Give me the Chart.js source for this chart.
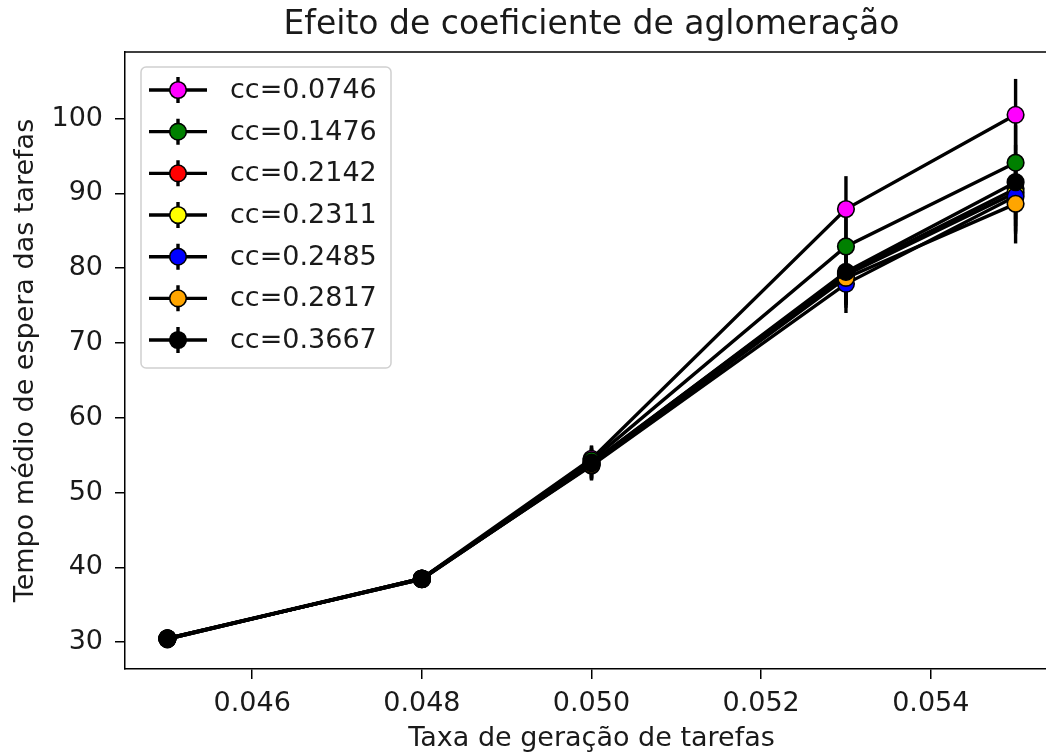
<!DOCTYPE html>
<html>
<head>
<meta charset="utf-8">
<script src="https://cdn.jsdelivr.net/npm/chart.js@4.4.1/dist/chart.umd.min.js"></script>
<style>
html, body { margin: 0; padding: 0; overflow: hidden; background: #fff; }
#clip { position: relative; width: 1046px; height: 755px; overflow: hidden; }
#wrap { position: absolute; left: 0; top: 0; width: 1075px; height: 755px; }
</style>
</head>
<body>
<div id="clip"><div id="wrap"><canvas id="c" width="1075" height="755"></canvas></div></div>
<script>
// ---- data ----
const xValues = [0.045, 0.048, 0.050, 0.053, 0.055];
const seriesLabels = ['cc=0.0746', 'cc=0.1476', 'cc=0.2142', 'cc=0.2311', 'cc=0.2485', 'cc=0.2817', 'cc=0.3667'];
const cc0746 = [30.5, 38.5, 54.5, 87.9, 100.5];
const cc1476 = [30.5, 38.4, 54.3, 82.9, 94.1];
const cc2142 = [30.4, 38.5, 54.0, 79.3, 90.6];
const cc2311 = [30.5, 38.4, 53.8, 79.1, 90.1];
const cc2485 = [30.4, 38.5, 53.6, 77.9, 89.6];
const cc2817 = [30.5, 38.4, 53.7, 78.7, 88.6];
const cc3667 = [30.4, 38.5, 53.9, 79.5, 91.5];
const err0746 = [0.3, 0.4, 1.8, 4.4, 4.8];
const err1476 = [0.3, 0.4, 1.9, 4.0, 5.0];
const err2142 = [0.3, 0.4, 2.0, 4.2, 5.0];
const err2311 = [0.3, 0.4, 2.0, 4.0, 5.2];
const err2485 = [0.3, 0.4, 2.0, 3.9, 5.0];
const err2817 = [0.3, 0.4, 2.0, 4.0, 5.3];
const err3667 = [0.3, 0.4, 2.0, 4.2, 5.0];
const xTicks = [0.046, 0.048, 0.050, 0.052, 0.054];
const yTicks = [30, 40, 50, 60, 70, 80, 90, 100];

const seriesValues = [cc0746, cc1476, cc2142, cc2311, cc2485, cc2817, cc3667];
const seriesErrors = [err0746, err1476, err2142, err2311, err2485, err2817, err3667];
const seriesColors = ['#ff00ff', '#008000', '#ff0000', '#ffff00', '#0000ff', '#ffa500', '#000000'];

const FONT = "'DejaVu Sans', sans-serif";
const TXT = '#1a1a1a';
const LW = 3.4;

const datasets = seriesValues.map((vals, i) => ({
  label: seriesLabels[i],
  data: xValues.map((x, j) => ({ x: x, y: vals[j] })),
  errors: seriesErrors[i],
  borderColor: '#000',
  borderWidth: LW,
  pointBackgroundColor: seriesColors[i],
  pointBorderColor: '#000',
  pointBorderWidth: 1.6,
  pointRadius: 8.3,
  pointHoverRadius: 8.3,
  tension: 0,
  fill: false,
  order: seriesValues.length - 1 - i
}));

const errorBars = {
  id: 'errorBars',
  beforeDatasetsDraw(chart) {
    const ctx = chart.ctx, xs = chart.scales.x, ys = chart.scales.y;
    ctx.save();
    ctx.strokeStyle = '#000';
    ctx.lineWidth = LW;
    ctx.lineCap = 'butt';
    chart.data.datasets.forEach(ds => {
      ds.data.forEach((p, j) => {
        const e = ds.errors[j];
        const px = xs.getPixelForValue(p.x);
        ctx.beginPath();
        ctx.moveTo(px, ys.getPixelForValue(p.y - e));
        ctx.lineTo(px, ys.getPixelForValue(p.y + e));
        ctx.stroke();
      });
    });
    ctx.restore();
  }
};

const frame = {
  id: 'frame',
  afterDraw(chart) {
    const ctx = chart.ctx, a = chart.chartArea;
    ctx.save();
    ctx.strokeStyle = '#000';
    ctx.lineWidth = 1.5;
    ctx.beginPath();
    ctx.moveTo(a.left, a.top);
    ctx.lineTo(a.right, a.top);
    ctx.lineTo(a.right, a.bottom);
    ctx.stroke();
    ctx.restore();
  }
};

const legendBox = {
  id: 'legendBox',
  afterDraw(chart) {
    const ctx = chart.ctx;
    const bx = 141, by = 67, bw = 250, bh = 301, r = 5;
    ctx.save();
    ctx.fillStyle = 'rgba(255,255,255,0.8)';
    ctx.strokeStyle = '#d0d0d0';
    ctx.lineWidth = 1.5;
    ctx.beginPath();
    ctx.moveTo(bx + r, by);
    ctx.arcTo(bx + bw, by, bx + bw, by + bh, r);
    ctx.arcTo(bx + bw, by + bh, bx, by + bh, r);
    ctx.arcTo(bx, by + bh, bx, by, r);
    ctx.arcTo(bx, by, bx + bw, by, r);
    ctx.closePath();
    ctx.fill();
    ctx.stroke();
    const step = 41.67;
    chart.data.datasets.forEach((ds, i) => {
      const cy = 90 + i * step;
      ctx.strokeStyle = '#000';
      ctx.lineWidth = LW;
      ctx.beginPath();
      ctx.moveTo(149, cy); ctx.lineTo(207, cy);
      ctx.moveTo(178, cy - 13); ctx.lineTo(178, cy + 13);
      ctx.stroke();
      ctx.beginPath();
      ctx.arc(178, cy, 8.3, 0, Math.PI * 2);
      ctx.fillStyle = ds.pointBackgroundColor;
      ctx.fill();
      ctx.lineWidth = 1.6;
      ctx.stroke();
      ctx.fillStyle = TXT;
      ctx.font = '27px ' + FONT;
      ctx.textAlign = 'left';
      ctx.textBaseline = 'middle';
      ctx.fillText(ds.label, 230, cy + 1);
    });
    ctx.restore();
  }
};

new Chart(document.getElementById('c'), {
  type: 'line',
  data: { datasets: datasets },
  plugins: [errorBars, frame, legendBox],
  options: {
    responsive: false,
    animation: false,
    events: [],
    layout: { padding: { left: 0, right: 17, top: 0, bottom: 0 } },
    plugins: {
      legend: { display: false },
      tooltip: { enabled: false },
      title: {
        display: true,
        text: 'Efeito de coeficiente de aglomeração',
        fullSize: false,
        color: TXT,
        font: { family: FONT, size: 33, weight: 'normal', lineHeight: 1.2 },
        padding: { top: 6, bottom: 6.4 }
      }
    },
    scales: {
      x: {
        type: 'linear',
        min: 0.0445,
        max: 0.0555,
        afterFit: s => { s.height = 86; },
        afterBuildTicks: s => { s.ticks = xTicks.map(v => ({ value: v })); },
        ticks: {
          color: TXT,
          font: { family: FONT, size: 27 },
          padding: 9,
          maxRotation: 0,
          autoSkip: false,
          callback: v => v.toFixed(3)
        },
        grid: { display: true, drawOnChartArea: false, drawTicks: true, tickLength: 10, color: '#000', lineWidth: 1.5 },
        border: { display: true, color: '#000', width: 1.5 },
        title: {
          display: true,
          text: 'Taxa de geração de tarefas',
          color: TXT,
          font: { family: FONT, size: 27, lineHeight: 1.2 },
          padding: { top: 0, bottom: 0 }
        }
      },
      y: {
        type: 'linear',
        min: 26.4,
        max: 108.9,
        afterFit: s => { s.width = 125; },
        afterBuildTicks: s => { s.ticks = yTicks.map(v => ({ value: v })); },
        ticks: {
          color: TXT,
          font: { family: FONT, size: 27 },
          padding: 12,
          autoSkip: false,
          callback: v => String(v)
        },
        grid: { display: true, drawOnChartArea: false, drawTicks: true, tickLength: 10, color: '#000', lineWidth: 1.5 },
        border: { display: true, color: '#000', width: 1.5 },
        title: {
          display: true,
          text: 'Tempo médio de espera das tarefas',
          color: TXT,
          font: { family: FONT, size: 27, lineHeight: 1.2 },
          padding: { top: 10, bottom: 0 }
        }
      }
    }
  }
});
</script>
</body>
</html>
